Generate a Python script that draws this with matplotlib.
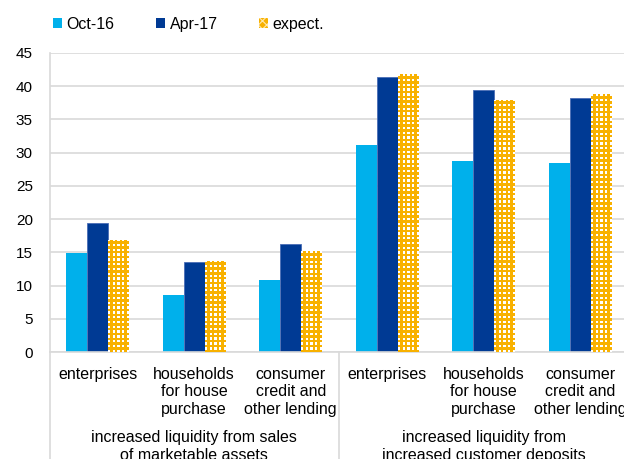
import numpy as np
import matplotlib
matplotlib.use('Agg')
import matplotlib.pyplot as plt
from matplotlib.patches import Patch

plt.rcParams['font.family'] = ['Liberation Sans', 'DejaVu Sans']

# data
categories = ['enterprises', 'households\nfor house\npurchase', 'consumer\ncredit and\nother lending',
              'enterprises', 'households\nfor house\npurchase', 'consumer\ncredit and\nother lending']
groups = ['increased liquidity from sales\nof marketable assets',
          'increased liquidity from\nincreased customer deposits']
oct16 = [14.9, 8.6, 10.8, 31.2, 28.7, 28.4]
apr17 = [19.4, 13.5, 16.2, 41.4, 39.4, 38.3]
expect = [16.9, 13.7, 15.2, 41.8, 38.0, 38.8]
series_names = ['Oct-16', 'Apr-17', 'expect.']

c_oct = '#00B0EB'
c_apr = '#003A94'
c_exp = '#F8B100'
grid_c = '#D9D9D9'

fig = plt.figure(figsize=(6.24, 4.59), dpi=100)
ax = fig.add_axes([49.5 / 624, 1 - 352 / 459, 579 / 624, 299 / 459])

x = np.arange(len(categories))
w = 0.217
ax.bar(x - w, oct16, w, color=c_oct, zorder=2)
ax.bar(x, apr17, w, color=c_apr, edgecolor='#4a6db5', linewidth=0.6, zorder=2)
bars_exp = ax.bar(x + w, expect, w, color='white', zorder=2)

# checker pattern inside the expect bars
px_per_unit = 299 / 45
cell = 2.4
orange = np.array(matplotlib.colors.to_rgb(c_exp))
for b in bars_exp:
    x0, h, bw = b.get_x(), b.get_height(), b.get_width()
    nx = max(int(round(bw * 96.5 / cell)), 1)
    ny = max(int(round(h * px_per_unit / cell)), 1)
    ii, jj = np.indices((ny, nx))
    pat = np.where((ii % 2 == 0) & (jj % 2 == 0), 0.0, 1.0)
    img = np.ones((ny, nx, 3))
    img[pat == 1] = orange
    im = ax.imshow(img, extent=(x0, x0 + bw, 0, h), aspect='auto',
                   interpolation='nearest', zorder=3)
    im.set_clip_path(b)

ax.set_xlim(-0.5, 5.5)
ax.set_ylim(0, 45)
ax.set_yticks(range(0, 46, 5))
ax.yaxis.grid(True, color=grid_c, linewidth=1.2, zorder=0)
ax.set_axisbelow(True)
for s in ['top', 'right']:
    ax.spines[s].set_visible(False)
ax.spines['left'].set_color(grid_c)
ax.spines['bottom'].set_color(grid_c)
ax.spines['left'].set_linewidth(1.2)
ax.spines['bottom'].set_linewidth(1.2)
ax.tick_params(axis='y', length=0, labelsize=11, pad=12)
ax.tick_params(axis='x', length=0)
ax.set_xticks(x)
ax.set_xticklabels([])

# category labels
for xi, lab in zip(x, categories):
    ax.text(xi, -2.2, lab, ha='center', va='top', fontsize=11.5,
            linespacing=1.22, clip_on=False)

# group labels
for gi, lab in enumerate(groups):
    ax.text(gi * 3 + 1, -11.8, lab, ha='center', va='top', fontsize=11.5,
            linespacing=1.25, clip_on=False)

# group separator lines
for xs in [-0.5, 2.5]:
    ax.plot([xs, xs], [0, -17], color=grid_c, linewidth=1.2, clip_on=False, zorder=1)

plt.rcParams['hatch.linewidth'] = 0.8
handles = [Patch(facecolor=c_oct), Patch(facecolor=c_apr),
           Patch(facecolor=c_exp, edgecolor='#FFE9B0', hatch='xxxx', linewidth=0)]
fig.legend(handles, series_names, loc='upper left', bbox_to_anchor=(0.062, 0.995),
           ncol=3, frameon=False, fontsize=11.5, handlelength=0.55, handleheight=0.55,
           handletextpad=0.3, columnspacing=2.6)

fig.savefig('out.png', dpi=100)
